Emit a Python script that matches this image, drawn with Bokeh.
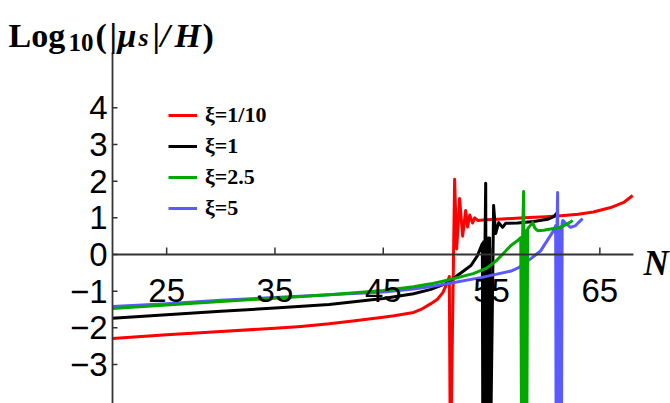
from bokeh.plotting import figure
from bokeh.models import Range1d, Label, Legend, LegendItem
from bokeh.core.properties import value
from bokeh.embed import file_html
from bokeh.resources import INLINE

# ---------------- data ----------------
SPIKE = -6.0  # log10 of a vanishing value: the curve dives below the frame

red_N = [20, 25, 30, 35, 37.4, 40, 42, 44.8, 46, 47.8, 48.6, 49.4, 50, 50.5, 50.9, 51.1, 51.2,
         51.59, 51.78, 52.05, 52.33, 52.61, 52.79, 52.98, 53.25, 53.44, 53.72,
         54.5, 56, 58, 60, 61.4, 63, 64.4, 66, 67.2, 68.03]
red_v = [-2.29, -2.19, -2.10, -2.01, -1.96, -1.89, -1.82, -1.72, -1.67, -1.58, -1.48, -1.34, -1.22, -1.04, -0.78, -0.6, SPIKE,
         2.05, 0.15, 1.53, 0.5, 1.2, 0.75, 1.08, 0.86, 1.0, 0.93,
         0.95, 0.97, 1.0, 1.03, 1.06, 1.1, 1.16, 1.28, 1.42, 1.61]

black_N = [20, 25, 30, 35, 40, 45, 47.8, 49.4, 50.9, 52.1, 53.1, 53.7, 54.0, 54.15,
           54.2, 54.27, 54.33, 54.4, 54.46, 54.52, 54.58, 54.64, 54.7, 54.76, 54.82, 54.88,
           55.19, 55.38, 55.66, 56.02, 56.3, 57.41, 58.89, 60.18, 60.73, 61.1]
black_v = [-1.74, -1.64, -1.55, -1.46, -1.36, -1.2, -1.07, -0.95, -0.78, -0.52, -0.3, -0.03, 0.19, 0.3,
           SPIKE, 0.35, SPIKE, 0.4, 1.94, SPIKE, 0.4, SPIKE, 0.45, SPIKE, 0.45, SPIKE,
           1.34, 0.57, 0.87, 0.74, 0.85, 0.86, 0.9, 0.96, 1.03, 1.15]

green_N = [20, 25, 30, 35, 40, 45, 47.8, 49.4, 50.9, 52, 53.3, 54.5, 55.4, 56, 56.76, 57.41, 57.7,
           57.78, 57.87, 57.96, 58.06, 58.15, 58.24, 58.33, 58.43, 58.8, 59.0, 59.26, 59.81,
           60.6, 61.38, 62.2, 62.49]
green_v = [-1.47, -1.38, -1.28, -1.19, -1.10, -0.98, -0.88, -0.8, -0.7, -0.62, -0.52, -0.38, -0.18, 0.0, 0.24, 0.38, 0.46,
           SPIKE, 0.55, 1.72, SPIKE, 0.65, SPIKE, 0.7, 0.74, 0.87, 0.72, 0.65, 0.66,
           0.7, 0.74, 0.87, 0.93]

blue_N = [20, 25, 30, 35, 40, 45, 47.8, 49.4, 50.9, 54, 56.8, 57.5, 58.6, 59.2, 59.53, 60.18, 60.73, 60.92,
          60.97, 61.04, 61.1, 61.16, 61.23, 61.3, 61.37, 61.44, 61.52, 61.58, 61.84, 62.3, 62.76, 63.23, 63.41]
blue_v = [-1.42, -1.34, -1.25, -1.17, -1.1, -1.02, -0.94, -0.87, -0.8, -0.63, -0.45, -0.36, -0.12, 0.02, 0.1, 0.4, 0.65, 0.79,
          SPIKE, 0.7, 1.69, SPIKE, 0.7, SPIKE, 0.75, SPIKE, 0.85, 0.93, 0.85, 0.74, 0.79, 0.93, 0.98]

series_labels = ["\u03be=1/10", "\u03be=1", "\u03be=2.5", "\u03be=5"]

x_ticks = [25, 35, 45, 55, 65]
x_tick_labels = ["25", "35", "45", "55", "65"]
y_ticks = [-3, -2, -1, 0, 1, 2, 3, 4]
y_tick_labels = ["\u22123", "\u22122", "\u22121", "0", "1", "2", "3", "4"]

AXIS_N0 = 20.0     # where the vertical axis stands
AXIS_N1 = 68.1     # end of the horizontal axis
AXIS_V1 = 5.51     # top of the vertical axis

# ---------------- styling / layout ----------------
W, H = 670, 403
PX_X = 10.83
PX_Y = 36.67
X0 = 9.658
Y1 = 6.927
AX = "#333333"
RED, BLACK, GREEN, BLUE = "#ff0000", "#000000", "#00a800", "#5a5aff"

p = figure(width=W, height=H, output_backend="svg", toolbar_location=None,
           x_range=Range1d(X0, X0 + W / PX_X), y_range=Range1d(Y1 - H / PX_Y, Y1),
           x_axis_location=None, y_axis_location=None, min_border=0)
p.outline_line_color = None
p.grid.grid_line_color = None
p.background_fill_color = "white"
p.border_fill_color = "white"

# curves
r_red = p.line(red_N, red_v, line_color=RED, line_width=3, line_join="round")
r_black = p.line(black_N, black_v, line_color=BLACK, line_width=3, line_join="round")
r_blue = p.line(blue_N, blue_v, line_color=BLUE, line_width=3, line_join="round")
r_green = p.line(green_N, green_v, line_color=GREEN, line_width=3, line_join="round")

# axes (Mathematica style, crossing at the origin)
p.line([AXIS_N0, AXIS_N1], [0, 0], line_color=AX, line_width=1.8)
p.line([AXIS_N0, AXIS_N0], [AXIS_V1, SPIKE], line_color=AX, line_width=1.8)
p.segment(x0=x_ticks, y0=[0] * len(x_ticks), x1=x_ticks, y1=[7 / PX_Y] * len(x_ticks),
          line_color=AX, line_width=1.5)
p.segment(x0=[AXIS_N0] * len(y_ticks), y0=y_ticks, x1=[AXIS_N0 + 5 / PX_X] * len(y_ticks), y1=y_ticks,
          line_color=AX, line_width=1.5)

p.text(x=x_ticks, y=[0] * len(x_ticks), text=x_tick_labels, text_align="center",
       text_baseline="alphabetic", y_offset=36, text_font=value("Liberation Sans"),
       text_font_size="33px", text_color="black")
p.text(x=[AXIS_N0] * len(y_ticks), y=y_ticks, text=y_tick_labels, text_align="right",
       text_baseline="middle", x_offset=-5, text_font=value("Liberation Sans"),
       text_font_size="33px", text_color="black")

# title pieces: Log10(|mu_s|/H)
def lab(x, y_from_top, t, size, style="bold"):
    p.add_layout(Label(x=x, y=H - y_from_top, x_units="screen", y_units="screen", text=t,
                       text_font="Liberation Serif", text_font_style=style,
                       text_font_size=size, text_baseline="alphabetic", text_color="black"))

lab(8, 35, "Log", "34px")
lab(68, 42, "10", "25px")
lab(95, 35, "(", "34px")
lab(109, 35, "|", "34px")
lab(117, 35, "\u03bc", "34px", "bold italic")
lab(138, 37, "s", "26px", "bold italic")
lab(152, 35, "|", "34px")
lab(160, 35, "/", "34px", "bold italic")
lab(174, 35, "H", "34px", "bold italic")
lab(202, 35, ")", "34px")

# axis name N
lab(643, 263, "N", "35px", "bold italic")

legend = Legend(items=[LegendItem(label=series_labels[0], renderers=[r_red]),
                       LegendItem(label=series_labels[1], renderers=[r_black]),
                       LegendItem(label=series_labels[2], renderers=[r_green]),
                       LegendItem(label=series_labels[3], renderers=[r_blue])],
                location=(168, H - 221), padding=0, margin=0, spacing=5,
                glyph_width=29, glyph_height=20, label_height=20, label_standoff=8,
                label_text_font="Liberation Serif", label_text_font_style="bold",
                label_text_font_size="22px", label_text_color="black",
                border_line_color=None, background_fill_alpha=0)
p.add_layout(legend)

open("out.html", "w").write(file_html(p, INLINE))
